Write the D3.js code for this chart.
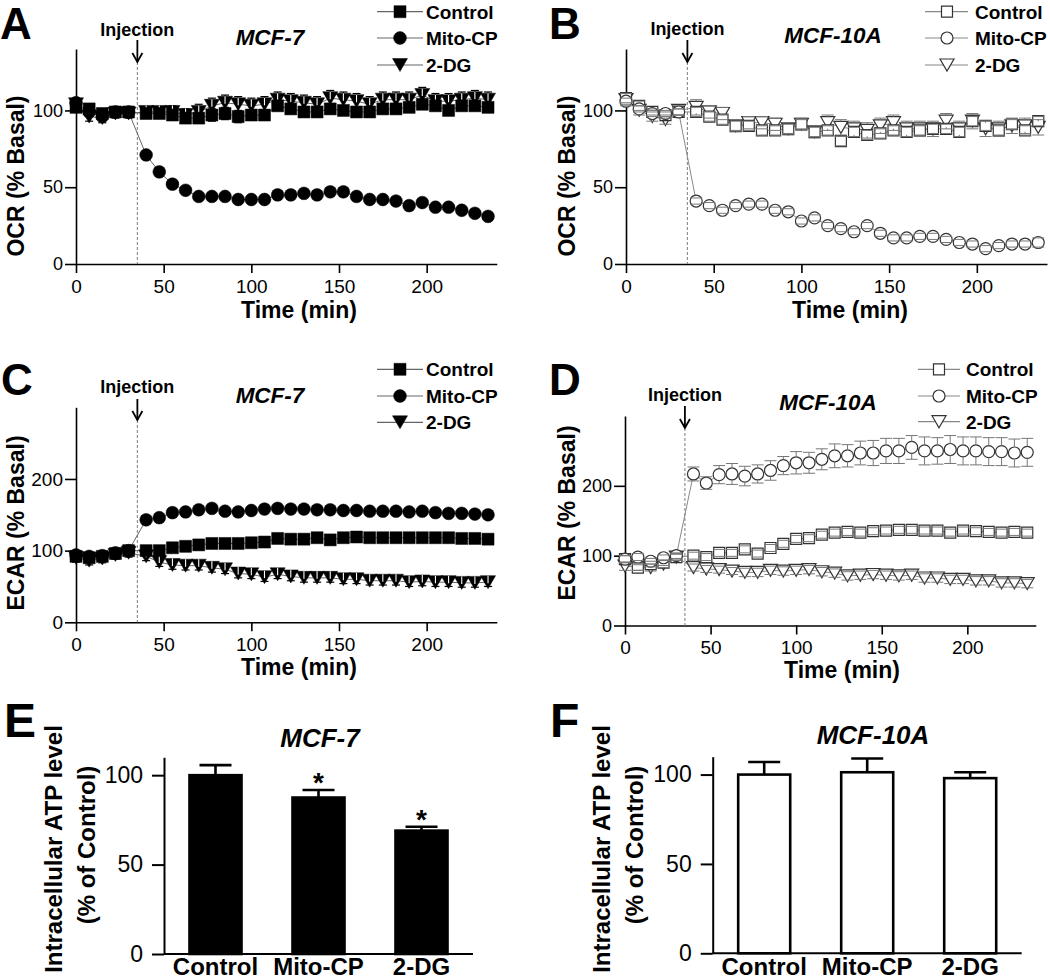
<!DOCTYPE html>
<html><head><meta charset="utf-8">
<script src="https://cdn.jsdelivr.net/npm/d3@7"></script>
<style>
body{margin:0;background:#fff}
svg{display:block}
</style>
</head><body>
<svg id="chart" width="1050" height="979"></svg>
<script>
// ---------------- DATA ----------------
const timeMin = [0,7.5,15,22.5,30,40,47.5,55,62.5,70,77.5,85,92.5,100,107.5,115,122.5,130,137.5,145,152.5,160,167.5,175,182.5,190,197.5,205,212.5,220,227.5,235];
const injectionTime = 35;
const timeTicks = [0,50,100,150,200];
const ocrTicks = [0,50,100];
const ecarTicks = [0,100,200];
const atpTicks = [0,50,100];
const seriesNames = ["Control","Mito-CP","2-DG"];

// A: OCR, MCF-7
const ocrMcf7Control = [102,101,98,99,99, 98,98,97,95,95,97,98,96,97,97, 103,101,99,99,101,100,99,99,101,101,102,104,103,100,103,103,102];
const ocrMcf7MitoCP  = [105,99,96,99,99, 71,60,52,48,44,44,44,42,42,42, 45,45,46,45,47,47,44,42,42,41,38,40,37,37,35,33,31];
const ocrMcf7TwoDG   = [104,96,95,98,98, 99,99,99,97,99,103,105,104,103,104, 107,106,105,104,108,107,106,104,107,107,107,110,106,106,107,108,107];
const ocrMcf7ControlErr = [3,2,2,2,2, 3,3,3,3,3,4,4,4,3,3, 3,3,3,3,3,3,3,3,3,3,3,3,3,3,3,3,3];
const ocrMcf7MitoCPErr  = [2,1,1,1,1, 2,2,1,1,1,1,1,1,1,1, 1,1,1,1,1,1,1,1,1,1,1,1,1,1,1,1,1];
const ocrMcf7TwoDGErr   = [4,3,3,3,3, 3,3,4,4,5,5,5,5,5,5, 5,5,5,5,5,5,5,5,5,5,5,5,5,5,5,5,5];

// B: OCR, MCF-10A
const ocrMcf10aControl = [108,103,99,97,99, 99,96,94,90,90,87,87,88,91,86, 87,80,86,84,85,87,86,87,88,88,86,93,90,87,91,87,93];
const ocrMcf10aMitoCP  = [106,101,98,98,99, 41,38,35,38,39,39,35,34,28,30, 25,23,21,25,20,17,17,18,18,16,14,13,10,12,13,13,14];
const ocrMcf10aTwoDG   = [107,100,96,94,100, 102,99,98,90,92,92,91,88,91,86, 92,89,88,87,90,92,88,88,88,93,88,93,88,88,90,90,89];
const ocrMcf10aControlErr = [3,3,2,2,2, 3,3,3,3,3,3,3,3,3,3, 3,3,3,3,3,3,3,3,3,3,3,3,3,3,3,3,3];
const ocrMcf10aMitoCPErr  = [2,2,2,2,2, 2,2,2,2,2,2,2,2,2,2, 2,2,2,2,2,2,2,2,2,2,2,2,2,2,2,2,3];
const ocrMcf10aTwoDGErr   = [4,3,3,3,3, 5,4,4,4,4,4,4,4,4,4, 5,5,5,5,5,5,5,5,5,5,5,5,5,5,5,5,5];

// C: ECAR, MCF-7
const ecarMcf7Control = [92,90,92,96,100, 100,100,104,106,108,110,110,110,111,112, 117,116,116,118,115,118,119,118,118,118,118,118,118,118,117,117,116];
const ecarMcf7MitoCP  = [94,92,93,97,100, 143,146,153,154,157,159,155,154,156,158, 159,158,158,157,157,156,156,155,155,155,154,155,153,152,152,151,150];
const ecarMcf7TwoDG   = [90,86,89,94,97, 92,84,80,79,79,76,74,68,67,63, 67,64,62,62,62,60,60,58,58,58,56,57,56,56,55,55,56];
const ecarMcf7ControlErr = [4,4,4,4,4, 3,3,3,3,3,3,3,3,3,3, 3,3,3,3,3,3,3,3,3,3,3,3,3,3,3,3,3];
const ecarMcf7MitoCPErr  = [4,4,3,3,3, 3,3,2,2,2,2,2,2,2,2, 2,2,2,2,2,2,2,2,2,2,2,2,2,2,2,2,2];
const ecarMcf7TwoDGErr   = [6,6,6,6,6, 6,6,6,6,6,6,6,6,6,6, 6,6,6,6,6,6,6,6,6,6,6,6,6,6,6,6,6];

// D: ECAR, MCF-10A
const ecarMcf10aControl = [95,83,88,90,98, 100,98,104,104,109,103,111,117,124,125, 130,133,134,133,135,136,137,137,136,136,133,136,135,134,133,134,133];
const ecarMcf10aMitoCP  = [95,98,92,97,100, 217,204,216,217,214,217,222,229,233,233, 238,243,243,247,247,250,250,255,250,250,252,250,250,249,249,247,248];
const ecarMcf10aTwoDG   = [85,84,83,88,98, 83,81,80,78,76,76,79,78,79,80, 77,75,71,72,73,72,71,72,68,68,66,66,64,64,61,61,60];
const ecarMcf10aControlErr = [5,4,4,4,4, 5,5,5,5,5,5,5,5,5,5, 5,5,5,5,5,5,5,5,5,5,5,5,5,5,5,5,5];
const ecarMcf10aMitoCPErr  = [5,5,4,4,4, 10,9,13,15,14,13,14,13,16,15, 15,17,16,17,18,18,18,17,20,19,20,20,20,20,20,20,20];
const ecarMcf10aTwoDGErr   = [6,5,5,5,5, 5,5,5,5,6,6,6,6,6,6, 6,6,6,6,6,6,6,6,6,6,6,6,6,6,6,6,6];

// E, F: intracellular ATP
const atpCategories = ["Control","Mito-CP","2-DG"];
const atpMcf7 = [100, 87.5, 69];
const atpMcf7Err = [5.6, 4.2, 2.2];
const atpMcf7Sig = ["", "*", "*"];
const atpMcf10a = [100, 101.3, 98];
const atpMcf10aErr = [7, 7.7, 3.3];
const atpMcf10aSig = ["", "", ""];

// ---------------- DRAWING ----------------
const FONT = '"Liberation Sans", Arial, Helvetica, sans-serif';
const svg = d3.select("#chart");

function symPath(type, open){
  if(type==="sq"){ const h = open?5.5:6; return `M${-h},${-h}H${h}V${h}H${-h}Z`; }
  if(type==="tri"){ const w = open?7:7.5, hh = open?6:6.5; return `M${-w},${-hh}H${w}L0,${hh}Z`; }
  const r = open?6:6.4;
  return d3.symbol().type(d3.symbolCircle).size(Math.PI*r*r)();
}

function txt(g, s, x, y, size, opts={}){
  const t = g.append("text").attr("x",x).attr("y",y).text(s)
    .style("font-family",FONT).style("font-size",size+"px").attr("fill","#000");
  if(opts.bold) t.style("font-weight","bold");
  if(opts.italic) t.style("font-style","italic");
  t.attr("text-anchor", opts.anchor||"start");
  return t;
}

function styleAxis(a, fs, sw){
  a.attr("font-size",null).attr("font-family",null);
  a.select(".domain").attr("stroke","#000").attr("stroke-width",sw);
  a.selectAll(".tick line").attr("stroke","#000").attr("stroke-width",sw);
  a.selectAll(".tick text").attr("fill","#000").style("font-family",FONT).style("font-size",fs+"px");
}

function drawTime(o){
  const g = svg.append("g");
  const x = d3.scaleLinear().domain([0,240]).range([o.x0,o.x1]);
  const y = d3.scaleLinear().domain([0,o.ymax]).range([o.y0,o.y1]);

  const ax = g.append("g").attr("transform",`translate(0,${o.y0})`)
    .call(d3.axisBottom(x).tickValues(timeTicks).tickSize(9).tickPadding(o.xpad).tickSizeOuter(0));
  styleAxis(ax, o.xtf, 1.6);
  const ay = g.append("g").attr("transform",`translate(${o.x0},0)`)
    .call(d3.axisLeft(y).tickValues(o.yTicks).tickSize(11).tickPadding(2).tickSizeOuter(0));
  styleAxis(ay, o.ytf, 1.6);

  // injection marker
  const xi = x(injectionTime);
  g.append("line").attr("x1",xi).attr("x2",xi).attr("y1",o.tip).attr("y2",o.y0)
    .attr("stroke","#888").attr("stroke-width",1.1).attr("stroke-dasharray","3,2");
  g.append("line").attr("x1",xi).attr("x2",xi).attr("y1",o.arrowTop).attr("y2",o.tip)
    .attr("stroke","#000").attr("stroke-width",1.8);
  g.append("path").attr("d",`M${xi-5},${o.tip-9}L${xi},${o.tip}L${xi+5},${o.tip-9}`)
    .attr("fill","none").attr("stroke","#000").attr("stroke-width",1.8);
  txt(g,"Injection",xi,o.injY,18,{bold:true,anchor:"middle"});

  const series = [
    {vals:o.data[2], err:o.err[2], sym:"tri"},
    {vals:o.data[0], err:o.err[0], sym:"sq"},
    {vals:o.data[1], err:o.err[1], sym:"circ"}
  ];
  const line = d3.line().x((d,i)=>x(timeMin[i])).y(d=>y(d));
  series.forEach(s=>{
    g.append("path").datum(s.vals).attr("d",line).attr("fill","none")
      .attr("stroke",o.lineColor).attr("stroke-width",1);
  });

  const capW = o.open?12:8;
  if(!o.open){
    series.forEach(s=>{
      s.vals.forEach((v,i)=>{
        const cx = x(timeMin[i]), yt = y(v+s.err[i]), yb = y(v-s.err[i]);
        g.append("line").attr("x1",cx).attr("x2",cx).attr("y1",yt).attr("y2",yb).attr("stroke","#000").attr("stroke-width",1.2);
        g.append("line").attr("x1",cx-capW/2).attr("x2",cx+capW/2).attr("y1",yt).attr("y2",yt).attr("stroke","#000").attr("stroke-width",1.2);
        g.append("line").attr("x1",cx-capW/2).attr("x2",cx+capW/2).attr("y1",yb).attr("y2",yb).attr("stroke","#000").attr("stroke-width",1.2);
      });
    });
  }
  series.forEach(s=>{
    const p = symPath(s.sym,o.open);
    s.vals.forEach((v,i)=>{
      g.append("path").attr("d",p).attr("transform",`translate(${x(timeMin[i])},${y(v)})`)
        .attr("fill",o.open?"#fff":"#000").attr("stroke",o.open?"#333":"#000").attr("stroke-width",o.open?1.2:0.5);
    });
    if(!o.open && s.sym==="tri"){
      s.vals.forEach((v,i)=>{
        const cx = x(timeMin[i]);
        g.append("line").attr("x1",cx).attr("x2",cx).attr("y1",y(v)+1).attr("y2",y(v)-6.5)
          .attr("stroke","#fff").attr("stroke-width",1.1);
      });
    }
  });
  if(o.open){
    series.forEach(s=>{
      const r = 6;
      s.vals.forEach((v,i)=>{
        const cx = x(timeMin[i]), cy = y(v), yt = y(v+s.err[i]), yb = y(v-s.err[i]);
        if(cy-yt > r){
          g.append("line").attr("x1",cx).attr("x2",cx).attr("y1",yt).attr("y2",cy-r).attr("stroke","#777").attr("stroke-width",1);
          g.append("line").attr("x1",cx).attr("x2",cx).attr("y1",cy+r).attr("y2",yb).attr("stroke","#777").attr("stroke-width",1);
        }
        [yt,yb].forEach(yy=>g.append("line").attr("x1",cx-capW/2).attr("x2",cx+capW/2).attr("y1",yy).attr("y2",yy).attr("stroke","#777").attr("stroke-width",1));
      });
    });
  }

  // legend
  const legSyms = ["sq","circ","tri"];
  seriesNames.forEach((n,i)=>{
    const ly = o.legRows[i];
    g.append("line").attr("x1",o.lx0).attr("x2",o.lx1).attr("y1",ly).attr("y2",ly).attr("stroke",o.lineColor).attr("stroke-width",1.2);
    g.append("path").attr("d",symPath(legSyms[i],o.open)).attr("transform",`translate(${o.lm},${ly})`)
      .attr("fill",o.open?"#fff":"#000").attr("stroke",o.open?"#333":"#000").attr("stroke-width",o.open?1.2:0.5);
    txt(g,n,o.lt,ly+6.8,19,{bold:true});
  });

  // labels
  txt(g,o.letter,o.letterX,o.letterY,44,{bold:true});
  txt(g,o.title,o.titleX,o.titleY,22.5,{bold:true,italic:true,anchor:"middle"});
  txt(g,"Time (min)",o.xlX,o.xlY,23,{bold:true,anchor:"middle"});
  txt(g,o.ylabel,0,0,23,{bold:true,anchor:"middle"})
    .attr("dy","0.35em").attr("transform",`translate(${o.ylX},${o.ylY}) rotate(-90)`);
}

function drawBars(o){
  const g = svg.append("g");
  const x = d3.scaleBand().domain(atpCategories).range([o.x0,o.x1]).paddingInner(0.495).paddingOuter(0.2475);
  const y = d3.scaleLinear().domain([0,110]).range([o.y0,o.y1]);
  const ay = g.append("g").attr("transform",`translate(${o.x0},0)`)
    .call(d3.axisLeft(y).tickValues(atpTicks).tickSize(12).tickPadding(9).tickSizeOuter(0));
  styleAxis(ay, 23, 2);
  g.append("line").attr("x1",o.x0).attr("x2",o.x1).attr("y1",o.y0).attr("y2",o.y0).attr("stroke","#000").attr("stroke-width",2);

  atpCategories.forEach((c,i)=>{
    const v = o.vals[i], e = o.err[i], cx = x(c)+x.bandwidth()/2;
    g.append("line").attr("x1",cx).attr("x2",cx).attr("y1",y(v)).attr("y2",y(v+e)).attr("stroke","#000").attr("stroke-width",2.6);
    g.append("line").attr("x1",cx-16).attr("x2",cx+16).attr("y1",y(v+e)).attr("y2",y(v+e)).attr("stroke","#000").attr("stroke-width",2.6);
    g.append("rect").attr("x",x(c)).attr("y",y(v)).attr("width",x.bandwidth()).attr("height",y(0)-y(v))
      .attr("fill",o.fill).attr("stroke","#000").attr("stroke-width",2.6);
    if(o.sig[i]) txt(g,o.sig[i],cx,y(v+e)+2,28,{bold:true,anchor:"middle"});
    txt(g,c,cx,975,24,{bold:true,anchor:"middle"});
  });

  txt(g,o.letter,o.letterX,o.letterY,48,{bold:true});
  txt(g,o.title,o.titleX,o.titleY,26,{bold:true,italic:true,anchor:"middle"});
  txt(g,"Intracellular ATP level",0,0,24,{bold:true,anchor:"middle"})
    .attr("dy","0.35em").attr("transform",`translate(${o.yl1X},849) rotate(-90)`);
  txt(g,"(% of Control)",0,0,24,{bold:true,anchor:"middle"})
    .attr("dy","0.35em").attr("transform",`translate(${o.yl2X},845) rotate(-90)`);
}

drawTime({x0:76,x1:496.8,y0:264,y1:49,ymax:140,yTicks:ocrTicks,xtf:19,ytf:18,xpad:7,open:false,lineColor:"#666",
  data:[ocrMcf7Control,ocrMcf7MitoCP,ocrMcf7TwoDG],err:[ocrMcf7ControlErr,ocrMcf7MitoCPErr,ocrMcf7TwoDGErr],
  injY:36,arrowTop:40,tip:62,legRows:[11.7,38,65],lx0:377,lx1:423,lm:400,lt:426,
  letter:"A",letterX:0,letterY:39,title:"MCF-7",titleX:270,titleY:45,xlX:299,xlY:318,ylabel:"OCR (% Basal)",ylX:15.5,ylY:176});

drawTime({x0:626,x1:1047,y0:264,y1:49,ymax:140,yTicks:ocrTicks,xtf:19,ytf:18,xpad:7,open:true,lineColor:"#888",
  data:[ocrMcf10aControl,ocrMcf10aMitoCP,ocrMcf10aTwoDG],err:[ocrMcf10aControlErr,ocrMcf10aMitoCPErr,ocrMcf10aTwoDGErr],
  injY:35,arrowTop:40,tip:62,legRows:[11.7,38,65],lx0:925,lx1:968,lm:947,lt:975,
  letter:"B",letterX:549,letterY:39,title:"MCF-10A",titleX:833,titleY:43,xlX:850,xlY:318,ylabel:"OCR (% Basal)",ylX:567,ylY:176});

drawTime({x0:76,x1:496.8,y0:622.3,y1:407.3,ymax:300,yTicks:ecarTicks,xtf:19,ytf:19,xpad:6,open:false,lineColor:"#666",
  data:[ecarMcf7Control,ecarMcf7MitoCP,ecarMcf7TwoDG],err:[ecarMcf7ControlErr,ecarMcf7MitoCPErr,ecarMcf7TwoDGErr],
  injY:393,arrowTop:399,tip:420,legRows:[369.3,396,422.3],lx0:377,lx1:423,lm:400,lt:426,
  letter:"C",letterX:1,letterY:395,title:"MCF-7",titleX:270,titleY:403,xlX:299,xlY:675,ylabel:"ECAR (% Basal)",ylX:15.5,ylY:523});

drawTime({x0:625,x1:1035.8,y0:625.5,y1:416,ymax:300,yTicks:ecarTicks,xtf:19,ytf:18,xpad:6,open:true,lineColor:"#888",
  data:[ecarMcf10aControl,ecarMcf10aMitoCP,ecarMcf10aTwoDG],err:[ecarMcf10aControlErr,ecarMcf10aMitoCPErr,ecarMcf10aTwoDGErr],
  injY:401,arrowTop:406,tip:428,legRows:[369.3,396,421.7],lx0:918,lx1:960,lm:939,lt:966,
  letter:"D",letterX:549,letterY:395,title:"MCF-10A",titleX:828,titleY:410,xlX:842,xlY:678,ylabel:"ECAR (% Basal)",ylX:567,ylY:513});

drawBars({x0:164,x1:473,y0:954,y1:757.3,vals:atpMcf7,err:atpMcf7Err,sig:atpMcf7Sig,fill:"#000",
  letter:"E",letterX:4,letterY:737,title:"MCF-7",titleX:320,titleY:747,yl1X:54,yl2X:87});
drawBars({x0:712.7,x1:1021.7,y0:953.3,y1:756.7,vals:atpMcf10a,err:atpMcf10aErr,sig:atpMcf10aSig,fill:"#fff",
  letter:"F",letterX:550,letterY:737,title:"MCF-10A",titleX:873,titleY:744,yl1X:602,yl2X:635});
</script>
</body></html>
